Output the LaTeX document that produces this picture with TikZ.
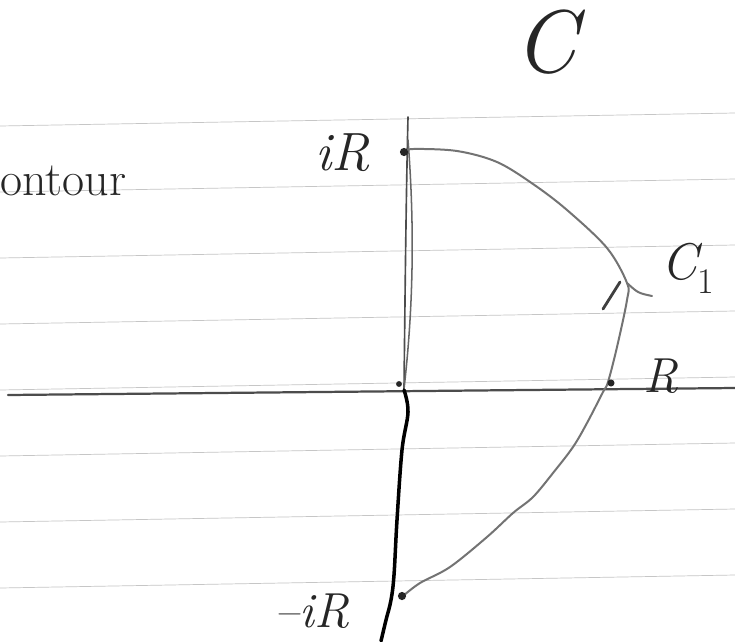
\documentclass[tikz,border=0pt]{standalone}
\usetikzlibrary{calc}
\begin{document}
\begin{tikzpicture}[x=0.03cm,y=-0.03cm,
  ruled/.style={draw=gray!45, line width=0.6pt},
  axisline/.style={draw=black!70, line width=1.9pt, line cap=round},
  contourline/.style={draw=black!55, line width=1.7pt, line cap=round, line join=round},
  heavy/.style={draw=black, line width=3pt, line cap=round, line join=round},
  hand/.style={inner sep=0pt, text=black!85, font=\itshape},
  blob/.style={circle, fill=black!85, inner sep=0pt, minimum size=7pt}]
\useasboundingbox (0,0) rectangle (735,641);
\fill[white] (0,0) rectangle (735,641);
% ruled paper lines
\foreach \y in {126,192,...,589} \draw[ruled] (0,\y) -- (735,{\y-13});
% key points
\coordinate (L) at (8,395);
\coordinate (Rend) at (735,388);
\coordinate (T) at (408,117);
\coordinate (O) at (404,389);
\coordinate (Bot) at (381,641);
\coordinate (A) at (627,283);
% axes
\draw[axisline] (L) -- (Rend);
\draw[axisline, line width=1.4pt] (T) .. controls (406,200) and (405,300) .. (O);
\draw[axisline, line width=1.3pt, draw=black!60] (408,140) .. controls (415,230) and (413,310) .. (O);
\draw[heavy] plot[smooth, tension=0.6] coordinates {(404,390) (408,412) (402,450) (397,520) (394,575) (391,600) (386,620) (381,641)};
% contour C1
\draw[contourline] plot[smooth, tension=0.55] coordinates {(404,152) (413,149) (457,151) (497,162) (533,184) (567,210) (607,248) (A) (627,300) (617,347) (608,382) (603,392) (587,423) (573,447) (553,473) (533,497) (513,513) (487,537) (450,567) (420,583) (403,596)};
% arrowhead
\draw[contourline, draw=black!75, line width=2.4pt] (603,309) -- (620,282);
\draw[contourline] (A) .. controls (638,293) .. (652,296);
% marked points
\node[blob] (piR) at (404,152) {};
\node[blob, minimum size=5pt] (pO) at (399,384) {};
\node[blob, minimum size=6pt] (pR) at (611,383) {};
\node[blob] (pmiR) at (402,596) {};
% labels
\node[hand, font=\upshape, anchor=base west] (word) at (0,195) {\fontsize{41}{41}\selectfont ontour};
\node[hand] (lC) at (546,42) {\fontsize{76}{76}\selectfont C};
\node[hand] (liR) at (343,153) {\fontsize{46}{46}\selectfont iR};
\node[hand] (lC1) at (688,268) {\fontsize{44}{44}\selectfont C\textsubscript{\upshape 1}};
\node[hand] (lR) at (661,376) {\fontsize{42}{42}\selectfont R};
\node[hand] (lmiR) at (312,611) {\fontsize{42}{42}\selectfont --iR};
\end{tikzpicture}
\end{document}
